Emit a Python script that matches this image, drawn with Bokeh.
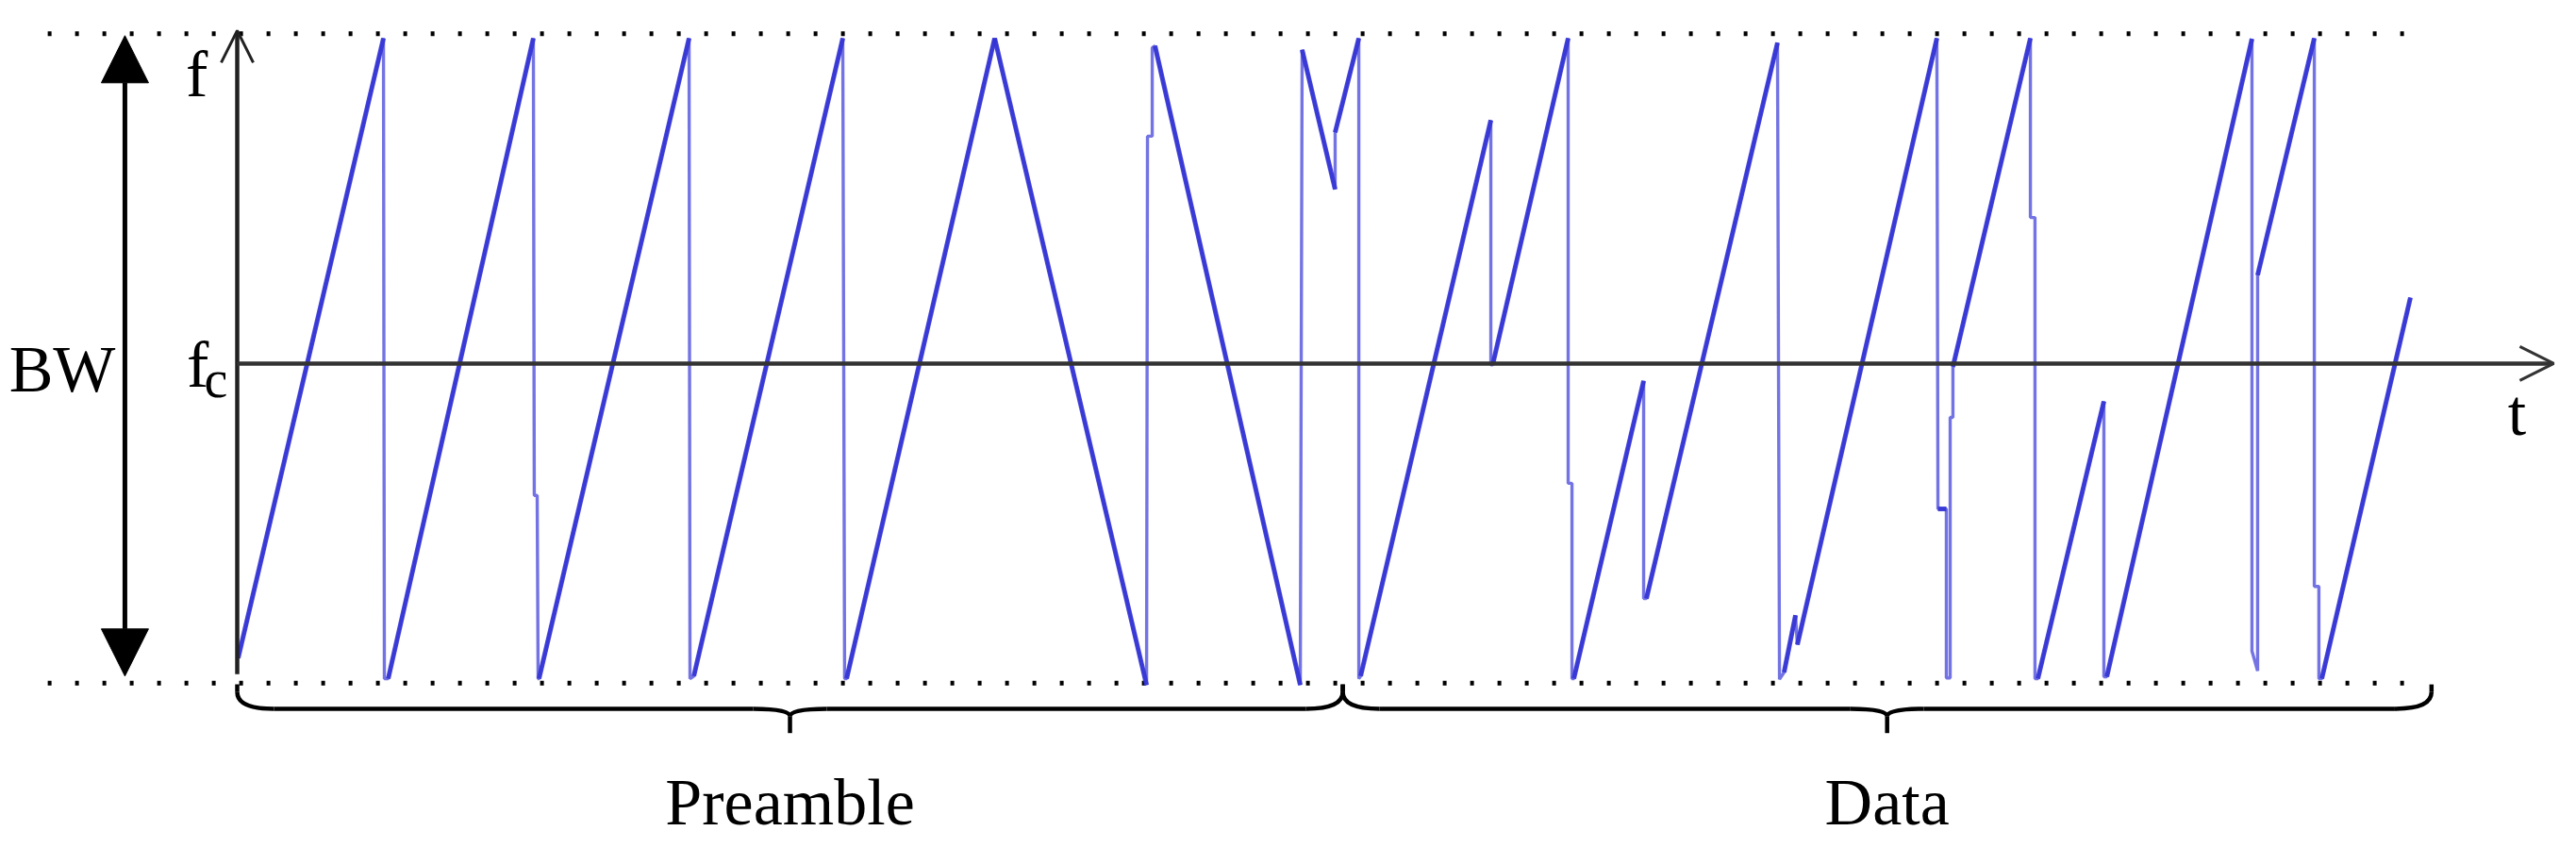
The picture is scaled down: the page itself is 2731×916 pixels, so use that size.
from bokeh.plotting import figure
from bokeh.models import Range1d, Arrow, OpenHead, NormalHead
from bokeh.core.properties import value
from bokeh.embed import file_html
from bokeh.resources import INLINE

# ---------------- data (time in symbol periods from the f axis, frequency in BW units around fc)
chirp_t = [0.006, 0.957, 0.963, 0.988, 1.938, 1.944, 1.963, 1.969, 1.975, 2.957,
           2.963, 2.988, 3.963, 3.975, 3.988, 4.957, 5.951, 5.957, 5.988, 5.988,
           6.006, 6.957, 6.969, 7.185, 7.185, 7.340, 7.340, 7.352, 8.204, 8.204,
           8.216, 8.710, 8.710, 8.735, 8.735, 8.747, 9.204, 9.204, 9.222, 10.080,
           10.093, 10.123, 10.198, 10.210, 11.123, 11.130, 11.185, 11.185, 11.210, 11.210,
           11.228, 11.228, 11.735, 11.735, 11.765, 11.765, 11.784, 12.216, 12.216, 12.235,
           13.185, 13.185, 13.222, 13.222, 13.593, 13.593, 13.623, 13.623, 13.642, 14.222]
chirp_f = [-0.468, 0.500, -0.500, -0.500, 0.500, -0.214, -0.214, -0.500, -0.500, 0.500,
           -0.500, -0.496, 0.500, -0.500, -0.500, 0.500, -0.510, 0.347, 0.347, 0.485,
           0.488, -0.510, 0.482, 0.264, 0.353, 0.500, -0.500, -0.496, 0.372, -0.010,
           -0.010, 0.500, -0.195, -0.195, -0.500, -0.500, -0.035, -0.375, -0.375, 0.493,
           -0.501, -0.490, -0.401, -0.447, 0.500, -0.235, -0.235, -0.499, -0.499, -0.092,
           -0.092, -0.013, 0.500, 0.220, 0.220, -0.500, -0.500, -0.067, -0.497, -0.497,
           0.499, -0.457, -0.488, 0.130, 0.500, -0.356, -0.356, -0.500, -0.500, 0.095]

segment_names = ["Preamble", "Data"]
segment_start = [0.0, 7.235]
segment_end = [7.235, 14.36]

bw_label = "BW"
f_label = "f"
fc_label = ("f", "c")
t_label = "t"

# ---------------- figure
FONT = value("Liberation Serif")
p = figure(width=2715, height=900,
           x_range=Range1d(-1.5494, 15.2099), y_range=Range1d(-0.76657, 0.55891),
           output_backend="svg", toolbar_location=None,
           x_axis_location=None, y_axis_location=None, min_border=0)
p.grid.visible = False
p.outline_line_color = None
p.background_fill_color = "white"
p.border_fill_color = "white"

# BW limit dotted lines
bw_level = 0.507
for lvl in (bw_level, -bw_level):
    p.line([-1.24, 14.33], [lvl, lvl], line_color="black", line_width=5,
           line_dash="4 25", line_cap="butt")

# signal: whole trajectory thin, sweeping parts bolder
p.line(chirp_t, chirp_f, line_color="#5050dd", line_width=3.4, line_alpha=0.8)
sx0, sy0, sx1, sy1 = [], [], [], []
for i in range(len(chirp_t) - 1):
    if chirp_t[i + 1] - chirp_t[i] > 0.05:
        sx0.append(chirp_t[i]); sy0.append(chirp_f[i])
        sx1.append(chirp_t[i + 1]); sy1.append(chirp_f[i + 1])
p.segment(sx0, sy0, sx1, sy1, line_color="#3333d4", line_width=5, line_alpha=0.9)

# axes
fc_level = -0.008
p.add_layout(Arrow(end=OpenHead(size=34, line_width=3, line_color="#222222"),
                   x_start=0, y_start=-0.493, x_end=0, y_end=0.512,
                   line_width=4.5, line_color="#222222"))
p.add_layout(Arrow(end=OpenHead(size=36, line_width=3, line_color="#333333"),
                   x_start=0, y_start=fc_level, x_end=15.16, y_end=fc_level,
                   line_width=4.5, line_color="#333333"))

# BW double arrow
p.add_layout(Arrow(start=NormalHead(size=50, fill_color="black", line_color="black"),
                   end=NormalHead(size=50, fill_color="black", line_color="black"),
                   x_start=-0.735, y_start=-0.496, x_end=-0.735, y_end=0.504,
                   line_width=5, line_color="black"))

# braces
top, knee, bar, tip_knee, tip = -0.509, -0.521, -0.547, -0.559, -0.585
rx = 0.24
mids = []
for a, b in zip(segment_start, segment_end):
    m = (a + b) / 2
    mids.append(m)
    p.segment([a, b, m], [top, top, tip_knee], [a, b, m], [knee, knee, tip],
              line_color="black", line_width=4.5)
    p.segment([a + rx, m + rx], [bar, bar], [m - rx, b - rx], [bar, bar],
              line_color="black", line_width=4.5)
    p.quadratic(x0=[a, b, m - rx, m + rx], y0=[knee, knee, bar, bar],
                x1=[a + rx, b - rx, m, m], y1=[bar, bar, tip_knee, tip_knee],
                cx=[a, b, m, m], cy=[bar, bar, bar, bar],
                line_color="black", line_width=4.5)

p.text(x=mids, y=[-0.693, -0.693], text=segment_names, text_font=FONT,
       text_font_size="70px", text_align="center", text_baseline="alphabetic",
       text_color="black")

# axis labels
p.text(x=[-1.145, -0.265, -0.259, 14.92], y=[-0.017, 0.444, -0.010, -0.084],
       text=[bw_label, f_label, fc_label[0], t_label], text_font=FONT,
       text_font_size="70px", text_align="center", text_baseline="alphabetic",
       text_color="black")
p.text(x=[-0.216], y=[-0.032], text=[fc_label[1]], text_font=FONT,
       text_font_size="56px", text_align="left", text_baseline="alphabetic",
       text_color="black")

open("out.html", "w").write(file_html(p, INLINE))
